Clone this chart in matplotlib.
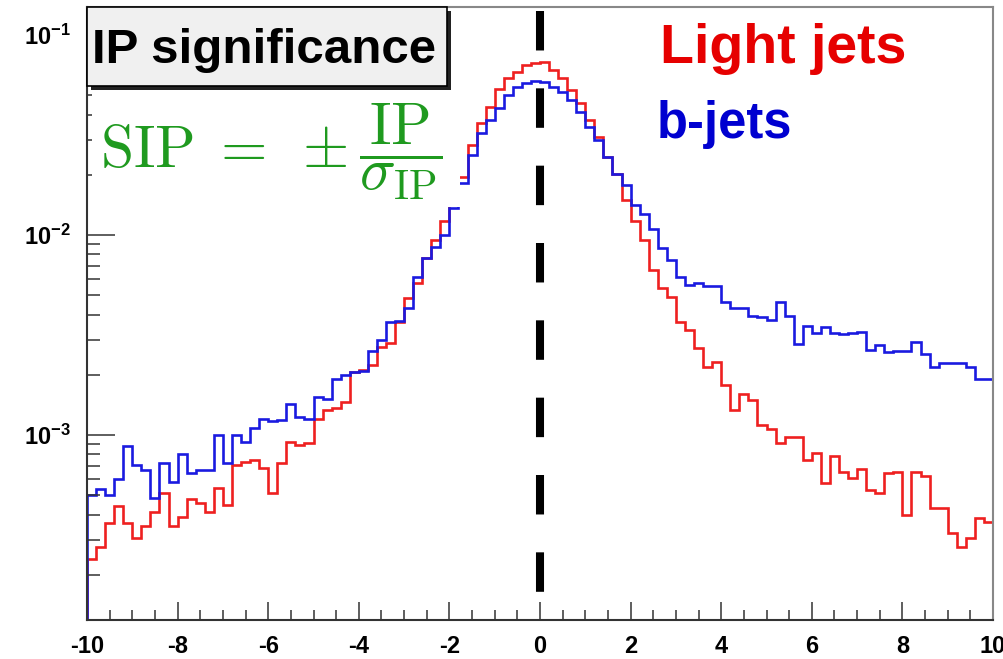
import numpy as np
import matplotlib
matplotlib.use('Agg')
import matplotlib.pyplot as plt
from matplotlib.patches import Rectangle
from matplotlib.ticker import MultipleLocator, FixedLocator, LogLocator, NullFormatter

plt.rcParams['mathtext.fontset'] = 'custom'
plt.rcParams['mathtext.bf'] = 'Liberation Sans:bold'
plt.rcParams['mathtext.rm'] = 'Liberation Sans:bold'

# IP significance histograms, 100 bins from -10 to 10
light_jets = [
    2.39e-4, 2.76e-4, 3.64e-4, 4.42e-4, 3.64e-4, 3.05e-4, 3.51e-4, 4.14e-4, 5.11e-4, 3.51e-4,
    3.88e-4, 4.77e-4, 4.56e-4, 4.14e-4, 5.41e-4, 4.47e-4, 7.08e-4, 7.36e-4, 7.50e-4, 6.88e-4,
    5.11e-4, 7.22e-4, 9.26e-4, 8.91e-4, 9.09e-4, 1.21e-3, 1.33e-3, 1.36e-3, 1.47e-3, 2.07e-3,
    2.11e-3, 2.24e-3, 2.76e-3, 2.87e-3, 3.69e-3, 4.83e-3, 5.73e-3, 7.65e-3, 9.44e-3, 1.18e-2,
    1.53e-2, 1.96e-2, 2.82e-2, 3.62e-2, 4.38e-2, 5.35e-2, 6.08e-2, 6.55e-2, 7.08e-2, 7.24e-2,
    7.29e-2, 6.68e-2, 6.08e-2, 5.31e-2, 4.56e-2, 3.76e-2, 3.10e-2, 2.46e-2, 2.03e-2, 1.50e-2,
    1.17e-2, 9.44e-3, 6.68e-3, 5.41e-3, 4.90e-3, 3.69e-3, 3.35e-3, 2.71e-3, 2.20e-3, 2.33e-3,
    1.78e-3, 1.33e-3, 1.60e-3, 1.50e-3, 1.12e-3, 1.07e-3, 9.12e-4, 9.74e-4, 9.74e-4, 7.50e-4,
    8.16e-4, 5.75e-4, 7.85e-4, 6.55e-4, 6.08e-4, 6.74e-4, 5.31e-4, 5.15e-4, 6.43e-4, 6.55e-4,
    3.98e-4, 6.55e-4, 6.24e-4, 4.30e-4, 4.30e-4, 3.23e-4, 2.75e-4, 3.05e-4, 3.83e-4, 3.69e-4,
]
b_jets = [
    5.01e-4, 5.35e-4, 5.01e-4, 6.01e-4, 8.84e-4, 7.08e-4, 6.68e-4, 4.83e-4, 7.22e-4, 5.84e-4,
    8.01e-4, 6.48e-4, 6.68e-4, 6.68e-4, 1.00e-3, 7.22e-4, 1.00e-3, 9.26e-4, 1.08e-3, 1.21e-3,
    1.17e-3, 1.19e-3, 1.43e-3, 1.23e-3, 1.20e-3, 1.55e-3, 1.51e-3, 1.90e-3, 2.00e-3, 2.07e-3,
    2.10e-3, 2.64e-3, 2.99e-3, 3.69e-3, 3.73e-3, 4.30e-3, 6.15e-3, 7.65e-3, 8.74e-3, 1.00e-2,
    1.36e-2, 1.81e-2, 2.51e-2, 3.23e-2, 3.76e-2, 4.30e-2, 5.01e-2, 5.51e-2, 5.73e-2, 5.91e-2,
    5.84e-2, 5.51e-2, 5.21e-2, 4.73e-2, 4.14e-2, 3.48e-2, 2.99e-2, 2.46e-2, 2.02e-2, 1.78e-2,
    1.41e-2, 1.28e-2, 1.07e-2, 8.58e-3, 7.50e-3, 6.17e-3, 5.62e-3, 5.73e-3, 5.56e-3, 5.56e-3,
    4.64e-3, 4.33e-3, 4.32e-3, 3.94e-3, 3.91e-3, 3.76e-3, 4.64e-3, 3.94e-3, 2.85e-3, 3.51e-3,
    3.24e-3, 3.46e-3, 3.24e-3, 3.20e-3, 3.24e-3, 3.27e-3, 2.65e-3, 2.82e-3, 2.61e-3, 2.63e-3,
    2.63e-3, 2.93e-3, 2.54e-3, 2.20e-3, 2.30e-3, 2.30e-3, 2.30e-3, 2.18e-3, 1.91e-3, 1.91e-3,
]
x_ticks = [-10, -8, -6, -4, -2, 0, 2, 4, 6, 8, 10]
y_ticks = [1e-3, 1e-2, 1e-1]
y_labels = [r'$\mathbf{10^{-3}}$', r'$\mathbf{10^{-2}}$', r'$\mathbf{10^{-1}}$']

fig = plt.figure(figsize=(10.04, 6.59), dpi=100)
ax = fig.add_axes([87 / 1004, 39 / 659, 906 / 1004, 613 / 659])
ax.set_yscale('log')

edges = np.linspace(-10, 10, len(light_jets) + 1)
ax.stairs(light_jets, edges, baseline=1e-5, color='#ee2020', lw=1.9, zorder=1)
ax.stairs(b_jets, edges, baseline=1e-5, color='#1a1ae0', lw=1.9, zorder=1.1)

ymin, ymax = 1.19e-4, 0.138
ax.set_xlim(-10, 10)
ax.set_ylim(ymin, ymax)

# dashed line at zero
ax.plot([0, 0], [0.1318, ymin], color='black', lw=5.8, ls=(0, (4.9, 4.7)),
        dash_capstyle='butt', zorder=2)

ax.xaxis.set_major_locator(FixedLocator(x_ticks))
ax.xaxis.set_minor_locator(MultipleLocator(0.5))
ax.set_xticklabels([str(t) for t in x_ticks], fontsize=17, fontweight='bold',
                   family='Liberation Sans')
ax.yaxis.set_major_locator(FixedLocator(y_ticks))
ax.yaxis.set_minor_locator(LogLocator(base=10, subs=range(2, 10)))
ax.yaxis.set_minor_formatter(NullFormatter())
ax.set_yticklabels(y_labels, fontsize=17)

ax.tick_params(axis='both', which='both', direction='in', color='#333333',
               top=False, right=False)
ax.tick_params(axis='y', which='major', length=20, width=1.1, pad=12)
ax.tick_params(axis='y', which='minor', length=9.5, width=1.1)
ax.tick_params(axis='x', which='major', length=13, width=1.1, pad=11)
ax.tick_params(axis='x', which='minor', length=7, width=1.1)

for s in ['left', 'bottom']:
    ax.spines[s].set_color('#333333')
    ax.spines[s].set_linewidth(1.5)
for s in ['top', 'right']:
    ax.spines[s].set_color('#888888')
    ax.spines[s].set_linewidth(1.5)

# title pave with shadow
bw, bh = 360 / 906, 79 / 613
y0 = 1 - bh
ax.add_patch(Rectangle((4 / 906, y0 - 4 / 613), bw, bh, transform=ax.transAxes,
                       fc='#222222', ec='none', zorder=5, clip_on=False))
ax.add_patch(Rectangle((0, y0), bw, bh, transform=ax.transAxes,
                       fc='#f0f0f0', ec='black', lw=1.2, zorder=6, clip_on=False))
ax.text(0.0055, 0.9086, 'IP significance', transform=ax.transAxes, fontsize=35.5,
        fontweight='bold', family='Liberation Sans', va='baseline', zorder=7)

# white area behind the formula
ax.add_patch(Rectangle((0.005, 0.6737), 0.4067, 0.19, transform=ax.transAxes,
                       fc='white', ec='none', zorder=4))
ax.text(0.0143, 0.7374, r'$\mathrm{SIP}\;=\;\pm\dfrac{\mathrm{IP}}{\sigma_{\mathrm{IP}}}$',
        transform=ax.transAxes, math_fontfamily='cm', fontsize=43, color='#1f9a1f',
        va='baseline', zorder=7)

ax.text(0.6325, 0.9086, 'Light jets', transform=ax.transAxes, color='#e60000',
        fontsize=40, fontweight='bold', family='Liberation Sans', va='baseline', zorder=7)
ax.text(0.6291, 0.7863, 'b-jets', transform=ax.transAxes, color='#0000d0',
        fontsize=36.5, fontweight='bold', family='Liberation Sans', va='baseline', zorder=7)

fig.savefig('out.png', dpi=100)
